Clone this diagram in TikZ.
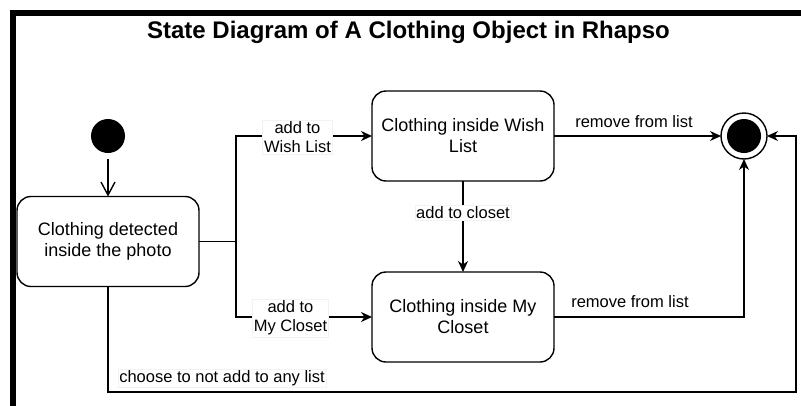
\documentclass[tikz,border=0pt]{standalone}
\usepackage{fontspec}
\setmainfont{Liberation Sans}
\usetikzlibrary{arrows.meta}
\begin{document}
\begin{tikzpicture}[x=1pt,y=-1pt,
  every node/.style={inner sep=0pt, outer sep=0pt},
  state/.style={draw, line width=1.4pt, rounded corners=14pt, fill=white,
    minimum width=182pt, minimum height=90pt, align=center,
    font=\fontsize{18}{21}\selectfont},
  lbl/.style={fill=white, draw=black!5, line width=0.4pt, inner sep=1.5pt,
    align=center, font=\fontsize{16.5}{19.3}\selectfont},
  conn/.style={line width=1.4pt},
  arr/.style={conn, -{Stealth[length=11pt,width=10pt,inset=3.5pt]}},
  openarr/.style={conn, -{Straight Barb[length=13pt,width=14pt,line width=1.4pt]}}
]
\useasboundingbox (0,0) rectangle (801,405);
\fill[white] (0,0) rectangle (801,405);

% frame
\draw[line width=6pt, line join=miter] (13,410) -- (13,13) -- (806,13);

% title
\node[font=\fontsize{24}{28}\selectfont\bfseries] (title) at (408.5,32) {State Diagram of A Clothing Object in Rhapso};

% states
\node[circle, fill=black, minimum size=34pt] (init) at (108,136) {};
\node[state] (detect) at (108,241.5) {Clothing detected\\inside the photo};
\node[state] (wish) at (463,136) {Clothing inside Wish\\List};
\node[state] (closet) at (463,317) {Clothing inside My\\Closet};
\node[circle, draw, line width=1.4pt, minimum size=46pt] (final) at (744,136) {};
\fill (final.center) circle[radius=17pt];

% helper points
\coordinate (split) at (236,241.5);
\coordinate (rb) at (796,392);

% transitions
\draw[openarr, shorten <=6pt] (init) -- (detect.north);
\draw[conn] (detect.east) -- (split);
\draw[arr] (split) |- (wish.west);
\draw[arr] (split) |- (closet.west);
\draw[arr] (wish.south) -- (closet.north);
\draw[arr] (wish.east) -- (final.west);
\draw[arr] (closet.east) -| (final.south);
\draw[arr] (detect.south) |- (rb) |- (final.east);

% transition labels
\node[lbl] (lwish) at (297.5,137) {add to\\Wish List};
\node[lbl] (lcloset) at (290.5,318) {add to\\My Closet};
\node[lbl] (lmove) at (463,213) {add to closet};
\node[lbl, fill=none, draw=none] (lrem1) at (634,122) {remove from list};
\node[lbl, fill=none, draw=none] (lrem2) at (630,302) {remove from list};
\node[lbl] (lnone) at (222,378) {choose to not add to any list};
\end{tikzpicture}
\end{document}
